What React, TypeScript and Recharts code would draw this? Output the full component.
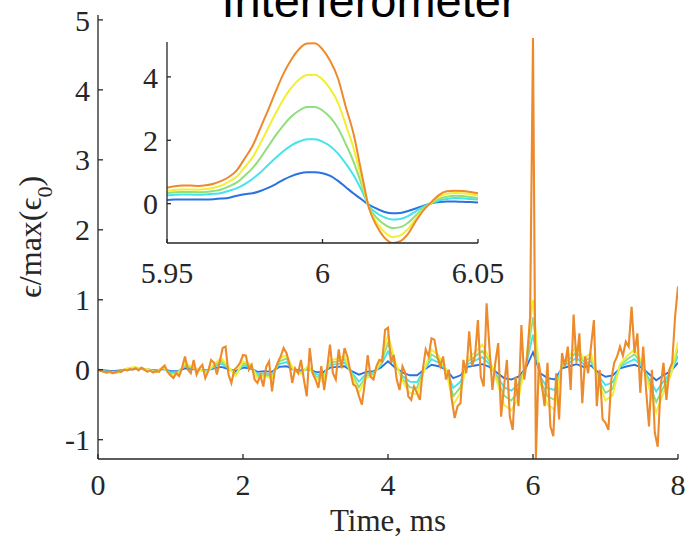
import React from 'react';
import { LineChart, Line, XAxis, YAxis } from 'recharts';

// sampling of the traces (ms)
const ORANGE_STEP = 0.04;
const TRACE_STEP = 0.1;
const INSET_START = 5.95;
const INSET_STEP = 0.0025;

const MAIN_X_TICKS = [0, 2, 4, 6, 8];
const MAIN_Y_TICKS = [-1, 0, 1, 2, 3, 4, 5];
const INSET_X_TICKS = [5.95, 6, 6.05];
const INSET_Y_TICKS = [0, 2, 4];

// full record, 0..8 ms
const mainOrange = [
  0.00, -0.02, -0.03, -0.04, -0.02, -0.05, -0.04, -0.02, -0.03, 0.00,
  -0.01, 0.01, 0.00, 0.02, -0.01, 0.03, 0.00, -0.03, -0.01, -0.04,
  -0.02, -0.03, 0.02, 0.06, -0.03, -0.08, -0.12, -0.05, -0.09, 0.03,
  0.19, 0.00, -0.05, 0.14, -0.07, 0.02, 0.07, -0.12, -0.02, 0.14,
  0.10, -0.07, 0.12, 0.31, 0.33, -0.07, -0.19, 0.00, 0.04, 0.10,
  0.21, 0.20, 0.00, 0.07, -0.14, -0.19, -0.08, -0.24, 0.04, 0.12,
  -0.31, 0.00, 0.10, 0.19, 0.31, 0.24, 0.08, -0.19, 0.02, -0.05,
  0.14, -0.14, -0.38, 0.31, -0.05, -0.14, -0.26, 0.05, -0.29, 0.02,
  0.36, -0.05, -0.14, 0.29, 0.02, 0.31, 0.19, -0.02, -0.21, -0.24,
  -0.38, -0.50, -0.19, 0.21, -0.10, -0.14, 0.05, 0.14, 0.12, 0.57,
  0.60, 0.10, 0.21, -0.14, -0.29, 0.05, -0.05, -0.38, -0.43, -0.24,
  -0.33, -0.43, 0.00, 0.29, 0.19, 0.45, 0.43, 0.19, 0.05, 0.19,
  -0.14, 0.00, -0.43, -0.69, -0.52, -0.48, 0.14, -0.05, 0.55, 0.05,
  0.19, 0.71, -0.10, -0.24, 0.95, 0.30, -0.29, 0.10, 0.38, -0.67,
  -0.24, 0.14, -0.67, -0.86, -0.10, -0.52, 0.64, -0.14, 0.19, 0.76,
  4.74, -1.27, 0.10, -0.20, -0.52, 0.10, -0.81, -0.95, -0.05, -0.71,
  0.24, 0.05, 0.33, -0.29, 0.79, 0.10, 0.52, -0.48, 0.19, -0.05,
  0.33, 0.71, -0.52, 0.00, -0.71, -0.76, -0.86, -0.14, 0.10, 0.19,
  0.33, 0.20, 0.40, 0.33, 0.90, 0.24, 0.52, -0.33, 0.33, -0.29,
  -0.81, 0.00, -0.90, -1.10, -0.24, 0.10, -0.43, 0.00, 0.10, 0.76,
  1.19,
];

const mainBlue = [
  0.00, -0.01, -0.02, -0.01, 0.00, 0.01, 0.01, 0.00, -0.01, 0.01,
  -0.02, -0.02, 0.02, 0.01, 0.00, -0.01, 0.02, 0.04, 0.01, -0.02,
  0.03, 0.02, -0.03, -0.02, -0.03, 0.04, 0.05, 0.00, -0.01, 0.01,
  -0.03, -0.04, 0.03, 0.04, 0.05, -0.02, -0.07, -0.03, -0.02, 0.03,
  0.12, 0.03, -0.04, -0.08, -0.08, 0.00, 0.07, 0.05, 0.00, -0.12,
  -0.08, 0.04, 0.06, 0.08, 0.04, -0.04, -0.12, -0.14, -0.10, 0.02,
  0.25, -0.05, -0.12, -0.14, 0.02, 0.05, 0.08, 0.04, 0.06, -0.04,
  -0.10, -0.08, 0.02, 0.05, 0.07, 0.03, -0.06, -0.15, -0.08, -0.02,
  0.10,
];

const mainCyan = [
  0.00, -0.02, -0.03, -0.02, 0.01, 0.02, 0.01, 0.00, -0.02, 0.02,
  -0.04, -0.03, 0.05, 0.02, 0.00, -0.02, 0.04, 0.09, 0.02, -0.05,
  0.06, 0.04, -0.06, -0.05, -0.07, 0.08, 0.11, 0.00, -0.03, 0.03,
  -0.06, -0.09, 0.07, 0.08, 0.10, -0.04, -0.17, -0.06, -0.04, 0.06,
  0.26, 0.06, -0.09, -0.17, -0.18, 0.00, 0.15, 0.10, 0.00, -0.26,
  -0.17, 0.08, 0.13, 0.18, 0.08, -0.08, -0.25, -0.30, -0.21, 0.05,
  0.50, -0.10, -0.26, -0.29, 0.05, 0.10, 0.17, 0.08, 0.12, -0.09,
  -0.22, -0.18, 0.04, 0.10, 0.15, 0.06, -0.13, -0.31, -0.17, -0.04,
  0.20,
];

const mainGreen = [
  0.00, -0.03, -0.04, -0.03, 0.01, 0.03, 0.02, 0.00, -0.03, 0.03,
  -0.06, -0.05, 0.07, 0.03, 0.00, -0.03, 0.06, 0.13, 0.03, -0.07,
  0.09, 0.06, -0.09, -0.07, -0.10, 0.12, 0.16, 0.00, -0.04, 0.04,
  -0.09, -0.13, 0.10, 0.12, 0.15, -0.06, -0.25, -0.09, -0.06, 0.09,
  0.38, 0.09, -0.13, -0.25, -0.26, 0.00, 0.22, 0.15, 0.00, -0.38,
  -0.25, 0.12, 0.19, 0.27, 0.12, -0.12, -0.37, -0.44, -0.31, 0.07,
  0.75, -0.15, -0.38, -0.43, 0.07, 0.15, 0.25, 0.12, 0.18, -0.13,
  -0.33, -0.27, 0.06, 0.15, 0.22, 0.09, -0.19, -0.46, -0.25, -0.06,
  0.30,
];

const mainYellow = [
  0.00, -0.04, -0.05, -0.04, 0.02, 0.04, 0.02, 0.00, -0.04, 0.04,
  -0.08, -0.06, 0.09, 0.04, 0.00, -0.04, 0.08, 0.17, 0.04, -0.09,
  0.12, 0.08, -0.12, -0.09, -0.13, 0.16, 0.21, 0.00, -0.06, 0.06,
  -0.12, -0.17, 0.13, 0.16, 0.20, -0.08, -0.33, -0.12, -0.08, 0.12,
  0.50, 0.12, -0.17, -0.33, -0.35, 0.00, 0.29, 0.20, 0.00, -0.50,
  -0.33, 0.16, 0.25, 0.36, 0.16, -0.16, -0.50, -0.58, -0.41, 0.09,
  1.00, -0.20, -0.50, -0.57, 0.09, 0.20, 0.33, 0.16, 0.24, -0.17,
  -0.44, -0.36, 0.08, 0.20, 0.29, 0.12, -0.25, -0.61, -0.33, -0.08,
  0.40,
];

// zoom on the 6 ms event, 5.95..6.05 ms
const insetBlue = [
  0.12, 0.13, 0.13, 0.13, 0.13, 0.13, 0.14, 0.16, 0.19, 0.25,
  0.30, 0.33, 0.40, 0.50, 0.62, 0.76, 0.87, 0.95, 0.99, 0.99,
  0.96, 0.88, 0.72, 0.52, 0.32, 0.14, -0.04, -0.16, -0.26, -0.30,
  -0.29, -0.23, -0.15, -0.06, 0.01, 0.05, 0.07, 0.07, 0.06, 0.05,
  0.04,
];
const insetCyan = [
  0.26, 0.28, 0.29, 0.29, 0.28, 0.29, 0.31, 0.34, 0.41, 0.49,
  0.62, 0.78, 0.98, 1.22, 1.45, 1.66, 1.84, 1.96, 2.03, 2.03,
  1.96, 1.81, 1.58, 1.26, 0.90, 0.44, -0.08, -0.30, -0.43, -0.50,
  -0.48, -0.39, -0.24, -0.09, 0.01, 0.10, 0.15, 0.18, 0.17, 0.15,
  0.13,
];
const insetGreen = [
  0.33, 0.36, 0.37, 0.37, 0.36, 0.37, 0.40, 0.45, 0.55, 0.67,
  0.88, 1.12, 1.44, 1.80, 2.16, 2.48, 2.75, 2.94, 3.05, 3.05,
  2.94, 2.72, 2.38, 1.88, 1.32, 0.62, -0.12, -0.45, -0.66, -0.77,
  -0.74, -0.60, -0.37, -0.14, 0.02, 0.15, 0.22, 0.25, 0.24, 0.21,
  0.18,
];
const insetYellow = [
  0.40, 0.44, 0.45, 0.45, 0.44, 0.46, 0.50, 0.57, 0.70, 0.86,
  1.15, 1.46, 1.90, 2.38, 2.86, 3.30, 3.66, 3.92, 4.06, 4.07,
  3.92, 3.62, 3.18, 2.48, 1.75, 0.80, -0.15, -0.60, -0.90, -1.05,
  -1.00, -0.80, -0.48, -0.18, 0.04, 0.22, 0.31, 0.34, 0.33, 0.30,
  0.26,
];
const insetOrange = [
  0.50, 0.55, 0.57, 0.57, 0.56, 0.58, 0.63, 0.72, 0.85, 1.06,
  1.43, 1.82, 2.38, 2.95, 3.55, 4.11, 4.55, 4.88, 5.05, 5.06,
  4.87, 4.50, 3.95, 3.05, 2.20, 1.00, -0.15, -0.71, -1.08, -1.24,
  -1.18, -0.95, -0.55, -0.20, 0.05, 0.28, 0.39, 0.41, 0.40, 0.37,
  0.33,
];

const BLUE = '#2a72e0';
const CYAN = '#45e3ee';
const GREEN = '#8fe07c';
const YELLOW = '#f2ee32';
const ORANGE = '#ec8a2c';

const AXIS = '#262626';
const SERIF = '"Liberation Serif", "Times New Roman", serif';

const toPoints = (vals: number[], start: number, step: number) =>
  vals.map((v, i) => ({ t: +(start + i * step).toFixed(4), v }));

const mainSeries = [
  { name: 'blue', color: BLUE, data: toPoints(mainBlue, 0, TRACE_STEP) },
  { name: 'cyan', color: CYAN, data: toPoints(mainCyan, 0, TRACE_STEP) },
  { name: 'green', color: GREEN, data: toPoints(mainGreen, 0, TRACE_STEP) },
  { name: 'yellow', color: YELLOW, data: toPoints(mainYellow, 0, TRACE_STEP) },
  { name: 'orange', color: ORANGE, data: toPoints(mainOrange, 0, ORANGE_STEP) },
];

const insetSeries = [
  { name: 'blue', color: BLUE, data: toPoints(insetBlue, INSET_START, INSET_STEP) },
  { name: 'cyan', color: CYAN, data: toPoints(insetCyan, INSET_START, INSET_STEP) },
  { name: 'green', color: GREEN, data: toPoints(insetGreen, INSET_START, INSET_STEP) },
  { name: 'yellow', color: YELLOW, data: toPoints(insetYellow, INSET_START, INSET_STEP) },
  { name: 'orange', color: ORANGE, data: toPoints(insetOrange, INSET_START, INSET_STEP) },
];

const tickStyle = { fill: AXIS, fontSize: 30, fontFamily: SERIF };

export default function App() {
  return (
    <div style={{ position: 'absolute', left: 0, top: 0, width: 694, height: 538, background: '#fff' }}>
      <div style={{ position: 'absolute', left: 0, top: 0 }}>
        <LineChart width={694} height={538} margin={{ top: 15, right: 16, bottom: 0, left: 0 }}>
          <XAxis
            type="number"
            dataKey="t"
            domain={[0, 8]}
            ticks={MAIN_X_TICKS}
            allowDataOverflow
            height={79}
            tickSize={-5}
            tickMargin={20}
            stroke={AXIS}
            strokeWidth={1.3}
            tick={tickStyle}
            label={{ value: 'Time, ms', position: 'insideBottom', offset: 7, fill: AXIS, fontSize: 31, fontFamily: SERIF }}
          />
          <YAxis
            type="number"
            domain={[-1.276, 5.07]}
            ticks={MAIN_Y_TICKS}
            allowDataOverflow
            width={98}
            tickSize={-5}
            tickMargin={13}
            stroke={AXIS}
            strokeWidth={1.3}
            tick={tickStyle}
          />
          {mainSeries.map((s) => (
            <Line
              key={s.name}
              data={s.data}
              dataKey="v"
              type="linear"
              stroke={s.color}
              strokeWidth={s.name === 'orange' ? 2.1 : 1.9}
              dot={false}
              isAnimationActive={false}
            />
          ))}
        </LineChart>
      </div>

      <div style={{ position: 'absolute', left: 0, top: 0 }}>
        <LineChart width={694} height={538} margin={{ top: 42, right: 216, bottom: 255, left: 0 }}>
          <XAxis
            type="number"
            dataKey="t"
            domain={[5.95, 6.05]}
            ticks={INSET_X_TICKS}
            allowDataOverflow
            height={40}
            tickSize={-4}
            tickMargin={23}
            stroke={AXIS}
            strokeWidth={1.3}
            tick={tickStyle}
          />
          <YAxis
            type="number"
            domain={[-1.24, 5.1]}
            ticks={INSET_Y_TICKS}
            allowDataOverflow
            width={167}
            tickSize={-4}
            tickMargin={13}
            stroke={AXIS}
            strokeWidth={1.3}
            tick={tickStyle}
          />
          {insetSeries.map((s) => (
            <Line
              key={s.name}
              data={s.data}
              dataKey="v"
              type="monotone"
              stroke={s.color}
              strokeWidth={2}
              dot={false}
              isAnimationActive={false}
            />
          ))}
        </LineChart>
      </div>

      <svg width={694} height={538} style={{ position: 'absolute', left: 0, top: 0, pointerEvents: 'none' }}>
        <text x={369} y={17} textAnchor="middle" fontFamily='"Liberation Sans", Arial, sans-serif' fontSize={47} fill="#000">
          Interferometer
        </text>
        <text transform="translate(41,237) rotate(-90)" textAnchor="middle" fontFamily={SERIF} fontSize={32} fill={AXIS}>
          ϵ/max(ϵ<tspan dy={11} fontSize={22}>0</tspan><tspan dy={-11}>)</tspan>
        </text>
      </svg>
    </div>
  );
}
